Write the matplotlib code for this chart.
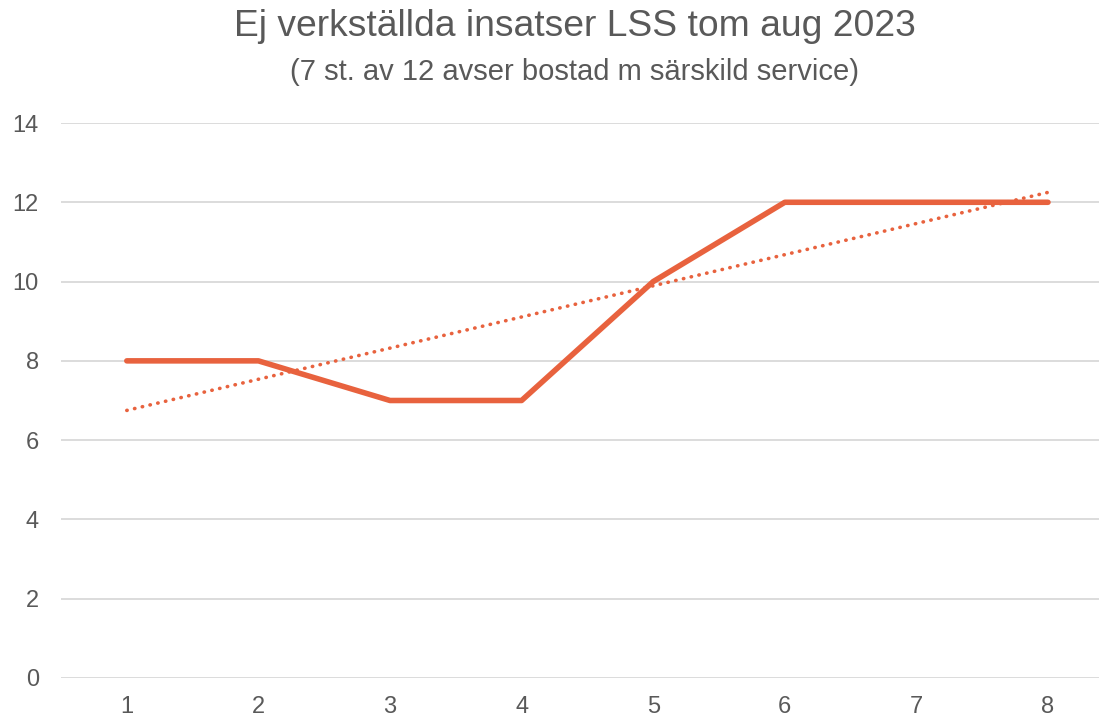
import numpy as np
import matplotlib.pyplot as plt

plt.rcParams['font.family'] = ['Liberation Sans', 'DejaVu Sans']

# data
months = [1, 2, 3, 4, 5, 6, 7, 8]
values = [8, 8, 7, 7, 10, 12, 12, 12]
title = "Ej verkställda insatser LSS tom aug 2023"
subtitle = "(7 st. av 12 avser bostad m särskild service)"

line_color = '#E8623E'
text_color = '#595959'

fig = plt.figure(figsize=(10.99, 7.16), dpi=100)
ax = fig.add_axes([61 / 1099, 1 - 678 / 716, 1 - 61 / 1099, (678 - 123) / 716])

ax.plot(months, values, color=line_color, linewidth=4.0, solid_capstyle='round', zorder=3)

# linear trendline
k, m = np.polyfit(months, values, 1)
x_tr = np.array([months[0], months[-1]])
ax.plot(x_tr, k * x_tr + m, color=line_color, linewidth=2.6, linestyle=(0, (0.1, 2.1)),
        dash_capstyle='round', zorder=3)

ax.set_ylim(0, 14)
ax.set_xlim(0.5, 8 + (1099 - 1048) / 131.6)
ax.set_yticks(range(0, 15, 2))
ax.set_xticks(months)
ax.grid(axis='y', color='#D9D9D9', linewidth=1.3)
ax.set_axisbelow(True)
for s in ax.spines.values():
    s.set_visible(False)
ax.tick_params(length=0, labelsize=17, labelcolor=text_color)
ax.tick_params(axis='y', pad=16)
ax.tick_params(axis='x', pad=13)

fig.text(575 / 1099, 1 - 27 / 716, title, ha='center', va='center', fontsize=26.8, color=text_color)
fig.text(575 / 1099, 1 - 72 / 716, subtitle, ha='center', va='center', fontsize=21, color=text_color)

plt.savefig('out.png', dpi=100)
